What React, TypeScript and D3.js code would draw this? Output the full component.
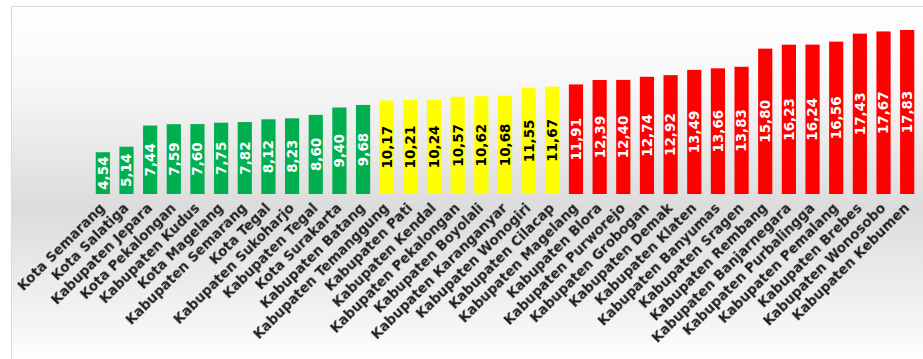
import React from "react";
import * as d3 from "d3";

const regions = [
  "Kota Semarang", "Kota Salatiga", "Kabupaten Jepara", "Kota Pekalongan", "Kabupaten Kudus",
  "Kota Magelang", "Kabupaten Semarang", "Kota Tegal", "Kabupaten Sukoharjo", "Kabupaten Tegal",
  "Kota Surakarta", "Kabupaten Batang", "Kabupaten Temanggung", "Kabupaten Pati", "Kabupaten Kendal",
  "Kabupaten Pekalongan", "Kabupaten Boyolali", "Kabupaten Karanganyar", "Kabupaten Wonogiri",
  "Kabupaten Cilacap", "Kabupaten Magelang", "Kabupaten Blora", "Kabupaten Purworejo",
  "Kabupaten Grobogan", "Kabupaten Demak", "Kabupaten Klaten", "Kabupaten Banyumas",
  "Kabupaten Sragen", "Kabupaten Rembang", "Kabupaten Banjarnegara", "Kabupaten Purbalingga",
  "Kabupaten Pemalang", "Kabupaten Brebes", "Kabupaten Wonosobo", "Kabupaten Kebumen",
];

const values = [
  4.54, 5.14, 7.44, 7.59, 7.6, 7.75, 7.82, 8.12, 8.23, 8.6, 9.4, 9.68,
  10.17, 10.21, 10.24, 10.57, 10.62, 10.68, 11.55, 11.67,
  11.91, 12.39, 12.4, 12.74, 12.92, 13.49, 13.66, 13.83, 15.8, 16.23, 16.24, 16.56, 17.43, 17.67, 17.83,
];

// category group per bar: 0 = green, 1 = yellow, 2 = red
const groups = [
  0, 0, 0, 0, 0, 0, 0, 0, 0, 0, 0, 0,
  1, 1, 1, 1, 1, 1, 1, 1,
  2, 2, 2, 2, 2, 2, 2, 2, 2, 2, 2, 2, 2, 2, 2,
];

const groupFill = ["#00b050", "#ffff00", "#ff0000"];
const groupText = ["#ffffff", "#000000", "#ffffff"];

const W = 923;
const H = 359;

export default function App() {
  const x = d3
    .scaleBand<string>()
    .domain(regions)
    .range([91, 919])
    .paddingInner(0.4)
    .paddingOuter(0.2);
  const y = d3.scaleLinear().domain([0, 18]).range([194, 28.4]);
  const fmt = (v: number) => d3.format(".2f")(v).replace(".", ",");
  const font = "'DejaVu Sans', Verdana, sans-serif";

  return (
    <div style={{ position: "absolute", left: 0, top: 0 }}>
      <svg width={W} height={H} style={{ display: "block" }}>
        <defs>
          <linearGradient id="bg" x1="0" y1="0" x2="0" y2="1">
            <stop offset="0%" stopColor="#ffffff" />
            <stop offset="20%" stopColor="#f8f8f8" />
            <stop offset="56%" stopColor="#dcdcdc" />
            <stop offset="85%" stopColor="#f2f2f2" />
            <stop offset="100%" stopColor="#ffffff" />
          </linearGradient>
          <filter id="soft" x="-20%" y="-20%" width="140%" height="140%">
            <feGaussianBlur stdDeviation="0.55" />
          </filter>
        </defs>
        <rect x={0} y={0} width={W} height={H} fill="#ffffff" />
        <rect x={11.5} y={6.5} width={W} height={H} fill="url(#bg)" stroke="#d8d8d8" strokeWidth={1} />
        <g>
          {regions.map((r, i) => {
            const bx = x(r)!;
            const bw = x.bandwidth();
            const top = y(values[i]);
            return (
              <rect
                key={r}
                x={bx}
                y={top}
                width={bw}
                height={y(0) - top}
                fill={groupFill[groups[i]]}
              />
            );
          })}
        </g>
        <g>
          {regions.map((r, i) => {
            const cx = x(r)! + x.bandwidth() / 2;
            const cy = (y(values[i]) + y(0)) / 2;
            return (
              <text
                key={r}
                transform={`translate(${cx},${cy}) rotate(-90)`}
                textAnchor="middle"
                dy="0.36em"
                fontFamily={font}
                fontWeight="bold"
                fontSize={13.5}
                fill={groupText[groups[i]]}
              >
                {fmt(values[i])}
              </text>
            );
          })}
        </g>
        <g>
          {regions.map((r) => {
            const cx = x(r)! + x.bandwidth() / 2;
            return (
              <text
                key={r}
                transform={`translate(${cx + 3},${209}) rotate(-45)`}
                textAnchor="end"
                fontFamily={font}
                fontWeight="bold"
                fontSize={13.5}
                fill="#1a1a1a"
                filter="url(#soft)"
              >
                {r}
              </text>
            );
          })}
        </g>
      </svg>
    </div>
  );
}
